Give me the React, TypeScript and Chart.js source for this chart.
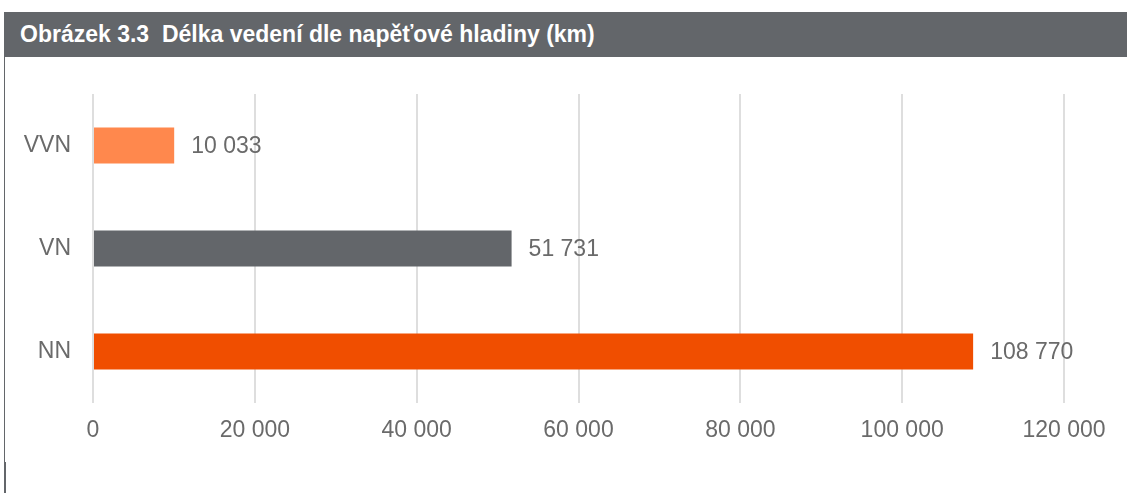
import React, { useEffect, useRef } from "react";
import { Chart, registerables } from "chart.js";

Chart.register(...registerables);

const title = "Obrázek 3.3  Délka vedení dle napěťové hladiny (km)";
const categories = ["VVN", "VN", "NN"];
const values = [10033, 51731, 108770];
const barColors = ["#FF884D", "#63666A", "#F04E00"];
const xMin = 0;
const xMax = 120000;
const xStep = 20000;

const FONT = "'Liberation Sans', Arial, sans-serif";
const TEXT_COLOR = "#6a6a6a";

function fmt(v: number): string {
  return String(Math.round(v)).replace(/\B(?=(\d{3})+(?!\d))/g, " ");
}

const valueLabels = {
  id: "valueLabels",
  afterDatasetsDraw(chart: any) {
    const ctx = chart.ctx;
    const meta = chart.getDatasetMeta(0);
    ctx.save();
    ctx.font = `23px ${FONT}`;
    ctx.fillStyle = TEXT_COLOR;
    ctx.textAlign = "left";
    ctx.textBaseline = "middle";
    meta.data.forEach((bar: any, i: number) => {
      const v = chart.data.datasets[0].data[i];
      ctx.fillText(fmt(v), bar.x + 17, bar.y + 1);
    });
    ctx.restore();
  },
};

export default function App() {
  const ref = useRef<HTMLCanvasElement | null>(null);
  useEffect(() => {
    if (!ref.current) return;
    const chart = new Chart(ref.current, {
      type: "bar",
      data: {
        labels: categories,
        datasets: [
          {
            data: values,
            backgroundColor: barColors,
            barPercentage: 0.35,
            categoryPercentage: 1,
          },
        ],
      },
      options: {
        indexAxis: "y",
        animation: false,
        responsive: false,
        maintainAspectRatio: false,
        layout: { padding: { top: 94, right: 63, bottom: 0, left: 0 } },
        plugins: {
          legend: { display: false },
          tooltip: { enabled: false },
        },
        scales: {
          x: {
            min: xMin,
            max: xMax,
            border: { display: false },
            grid: { color: "#DEDEDE", lineWidth: 2, drawTicks: false },
            ticks: {
              stepSize: xStep,
              padding: 14,
              color: TEXT_COLOR,
              font: { family: FONT, size: 23 },
              callback: (v: any) => fmt(Number(v)),
            },
            afterFit: (s: any) => {
              s.height = 90;
            },
          },
          y: {
            border: { display: false },
            grid: { display: false, drawTicks: false },
            ticks: {
              padding: 22,
              color: TEXT_COLOR,
              font: { family: FONT, size: 23 },
            },
            afterFit: (s: any) => {
              s.width = 93;
            },
          },
        },
      },
      plugins: [valueLabels],
    });
    return () => chart.destroy();
  }, []);

  return (
    <div
      style={{
        position: "fixed",
        left: 0,
        top: 0,
        width: 1127,
        height: 493,
        background: "#ffffff",
        overflow: "hidden",
      }}
    >
      <div
        style={{
          position: "absolute",
          left: 4,
          top: 12,
          right: 0,
          height: 45,
          background: "#63666A",
          color: "#ffffff",
          fontFamily: FONT,
          fontWeight: "bold",
          fontSize: 23,
          whiteSpace: "pre",
          display: "flex",
          alignItems: "center",
          paddingLeft: 16,
          boxSizing: "border-box",
        }}
      >
        {title}
      </div>
      <div
        style={{
          position: "absolute",
          left: 4,
          top: 57,
          width: 1,
          height: 436,
          background: "#63666A",
        }}
      />
      <div
        style={{
          position: "absolute",
          left: 4,
          top: 462,
          width: 2,
          height: 31,
          background: "#63666A",
        }}
      />
      <canvas
        ref={ref}
        width={1127}
        height={493}
        style={{ position: "absolute", left: 0, top: 0, width: 1127, height: 493 }}
      />
    </div>
  );
}
